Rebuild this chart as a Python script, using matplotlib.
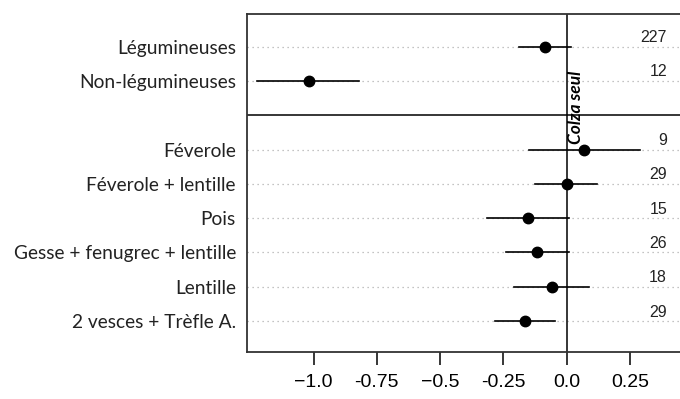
import matplotlib
matplotlib.use("Agg")
import matplotlib.pyplot as plt

# Data
labels = ["Légumineuses", "Non-légumineuses",
          "Féverole", "Féverole + lentille", "Pois",
          "Gesse + fenugrec + lentille", "Lentille", "2 vesces + Trèfle A."]
rows = [0, 1, 3, 4, 5, 6, 7, 8]
estimate = [-0.087, -1.018, 0.07, 0.0, -0.151, -0.117, -0.059, -0.166]
ci_low = [-0.187, -1.223, -0.15, -0.124, -0.315, -0.24, -0.206, -0.283]
ci_high = [0.016, -0.82, 0.292, 0.119, 0.008, 0.008, 0.088, -0.046]
counts = [227, 12, 9, 29, 15, 26, 18, 29]
xticks = [-1.0, -0.75, -0.5, -0.25, 0.0, 0.25]
xtick_labels = ["\u22121.0", "-0.75", "\u22120.5", "-0.25", "0.0", "0.25"]

fig = plt.figure(figsize=(6.8, 3.99), dpi=100)
ax = fig.add_axes([247 / 680, 47 / 399, 1 - 247 / 680 + 0.01, 338 / 399])

# dotted guide lines behind each row
for r in rows:
    ax.axhline(r, color="#b0b0b0", lw=0.9, ls=(0, (1, 3)), zorder=1)

# confidence intervals and estimates
for r, e, lo, hi in zip(rows, estimate, ci_low, ci_high):
    ax.plot([lo, hi], [r, r], color="black", lw=1.2, zorder=3)
ax.plot(estimate, rows, "o", color="black", ms=7.5, zorder=4)

# reference line (colza alone) and group separator
ax.axvline(0, color="black", lw=1.1, zorder=2)
ax.axhline(2, color="black", lw=1.1, zorder=2)
ax.text(0.038, 1.76, "Colza seul", rotation=90, ha="center", va="center",
        fontsize=12.5, fontweight="bold", fontstyle="italic", family="Lato")

# sample sizes
for r, n in zip(rows, counts):
    ax.text(0.397, r - 0.26, str(n), ha="right", va="center", fontsize=11.5,
            family="Liberation Sans", color="#222222")

# 253 px per unit, zero at x=566
ax.set_xlim(-1.263, 0.475)
ax.set_ylim(8.9, -0.95)
ax.set_yticks(rows)
ax.set_yticklabels(labels, family="Lato", fontsize=13.8, color="#222222")
ax.tick_params(axis="y", length=0, pad=8)
ax.set_xticks(xticks)
ax.set_xticklabels(xtick_labels, family="Liberation Sans", fontsize=14)
ax.tick_params(axis="x", length=9.5, width=1.1, pad=6, direction="out")

ax.spines["right"].set_visible(False)
for s in ["left", "top", "bottom"]:
    ax.spines[s].set_linewidth(1.3)
    ax.spines[s].set_color("#333333")

fig.savefig("out.png", dpi=100)
